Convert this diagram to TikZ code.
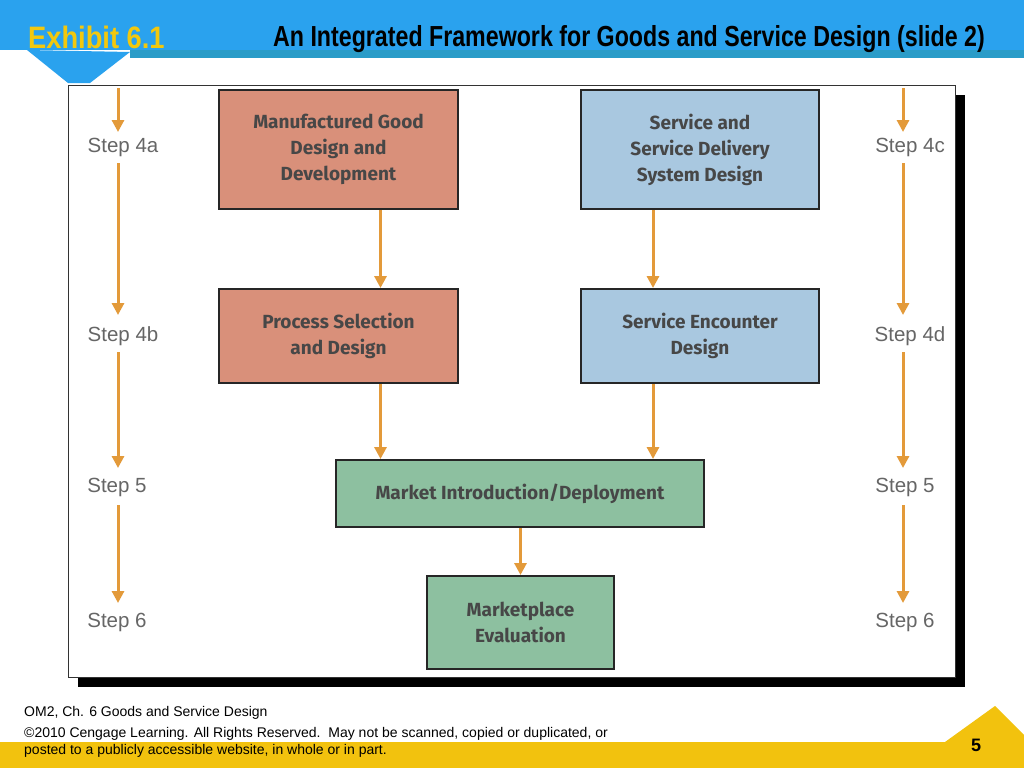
\documentclass[tikz,border=0pt]{standalone}
\usepackage{fontspec}
\setmainfont{Liberation Sans}
\newfontfamily\boxfont{Fira Sans}
\usetikzlibrary{arrows.meta}
\definecolor{hdr}{HTML}{2AA2EE}
\definecolor{teal}{HTML}{2A9CC8}
\definecolor{ttl}{HTML}{F2C80E}
\definecolor{sal}{HTML}{D9907A}
\definecolor{lb}{HTML}{A9C8E0}
\definecolor{gr}{HTML}{8DC0A0}
\definecolor{org}{HTML}{E39A3A}
\definecolor{ylw}{HTML}{F2C20E}
\begin{document}
\begin{tikzpicture}[x=1pt,y=-1pt,
 bx/.style={draw=black!85,line width=2pt,font=\boxfont\bfseries\fontsize{19}{26}\selectfont,text=black!72,align=center,anchor=north west,inner sep=0pt},
 stp/.style={font=\fontsize{20.5}{22}\selectfont,text=black!60},
 ar/.style={draw=org,line width=3pt,-{Triangle[length=12pt,width=12pt]}}]
\useasboundingbox (0,0) rectangle (1024,768);
\fill[white] (0,0) rectangle (1024,768);
\fill[hdr] (0,0) rectangle (1024,50);
\fill[teal] (130,50) rectangle (1024,58);
\fill[hdr] (27,50) -- (68,83) -- (90,83) -- (130,52) -- cycle;
\node[font=\bfseries\fontsize{31}{33}\selectfont,text=ttl,anchor=west,xscale=0.88,inner sep=0pt] (ex) at (28,37) {Exhibit 6.1};
\node[font=\bfseries\fontsize{29}{31}\selectfont,anchor=center,xscale=0.8] (tt) at (629,39) {An Integrated Framework for Goods and Service Design (slide 2)};
\fill[black] (78,95) rectangle (965,687);
\draw[black!80,fill=white] (68,85) rectangle (955,677);
\node[bx,fill=sal,minimum width=239pt,minimum height=119pt] (a) at (218,89) {Manufactured Good\\Design and\\Development};
\node[bx,fill=lb,minimum width=238pt,minimum height=119pt] (b) at (580,89) {Service and\\Service Delivery\\System Design};
\node[bx,fill=sal,minimum width=239pt,minimum height=94pt] (c) at (218,288) {Process Selection\\and Design};
\node[bx,fill=lb,minimum width=238pt,minimum height=94pt] (d) at (580,288) {Service Encounter\\Design};
\node[bx,fill=gr,minimum width=368pt,minimum height=67pt] (e) at (335,459) {Market Introduction/Deployment};
\node[bx,fill=gr,minimum width=187pt,minimum height=93pt] (f) at (426,575) {Marketplace\\Evaluation};
\draw[ar] ([xshift=42pt]a.south) -- ([xshift=42pt]a.south|-c.north);
\draw[ar] ([xshift=-47pt]b.south) -- ([xshift=-47pt]b.south|-d.north);
\draw[ar] ([xshift=42pt]c.south) -- ([xshift=42pt]c.south|-e.north);
\draw[ar] ([xshift=-47pt]d.south) -- ([xshift=-47pt]d.south|-e.north);
\draw[ar] (e.south-|f.north) -- (f.north);
\node[stp] (l1) at (123,147) {Step 4a};
\node[stp] (l2) at (123,336) {Step 4b};
\node[stp] (l3) at (117,487) {Step 5};
\node[stp] (l4) at (117,622) {Step 6};
\node[stp] (r1) at (910,147) {Step 4c};
\node[stp] (r2) at (910,336) {Step 4d};
\node[stp] (r3) at (905,487) {Step 5};
\node[stp] (r4) at (905,622) {Step 6};
\coordinate (lt) at (118,88); \coordinate (rt) at (903,88);
\draw[ar] (lt) -- (118,132);
\draw[ar] (118,163) -- (118,315);
\draw[ar] (118,352) -- (118,468);
\draw[ar] (118,505) -- (118,603);
\draw[ar] (rt) -- (903,132);
\draw[ar] (903,163) -- (903,315);
\draw[ar] (903,352) -- (903,468);
\draw[ar] (903,505) -- (903,603);
\fill[ylw] (0,742) rectangle (1024,768);
\fill[ylw] (945,742) -- (995,706) -- (1024,735) -- (1024,742) -- cycle;
\node[font=\bfseries\fontsize{18}{20}\selectfont,anchor=center] (n) at (976,745) {5};
\node[font=\fontsize{14}{16}\selectfont,anchor=west,inner sep=0pt] (f1) at (24,713) {OM2, Ch. 6 Goods and Service Design};
\node[font=\fontsize{14}{16}\selectfont,anchor=west,inner sep=0pt] (f2) at (24,734) {©2010 Cengage Learning. All Rights Reserved.\ \ May not be scanned, copied or duplicated, or};
\node[font=\fontsize{14}{16}\selectfont,anchor=west,inner sep=0pt] (f3) at (24,751) {posted to a publicly accessible website, in whole or in part.};
\end{tikzpicture}
\end{document}
